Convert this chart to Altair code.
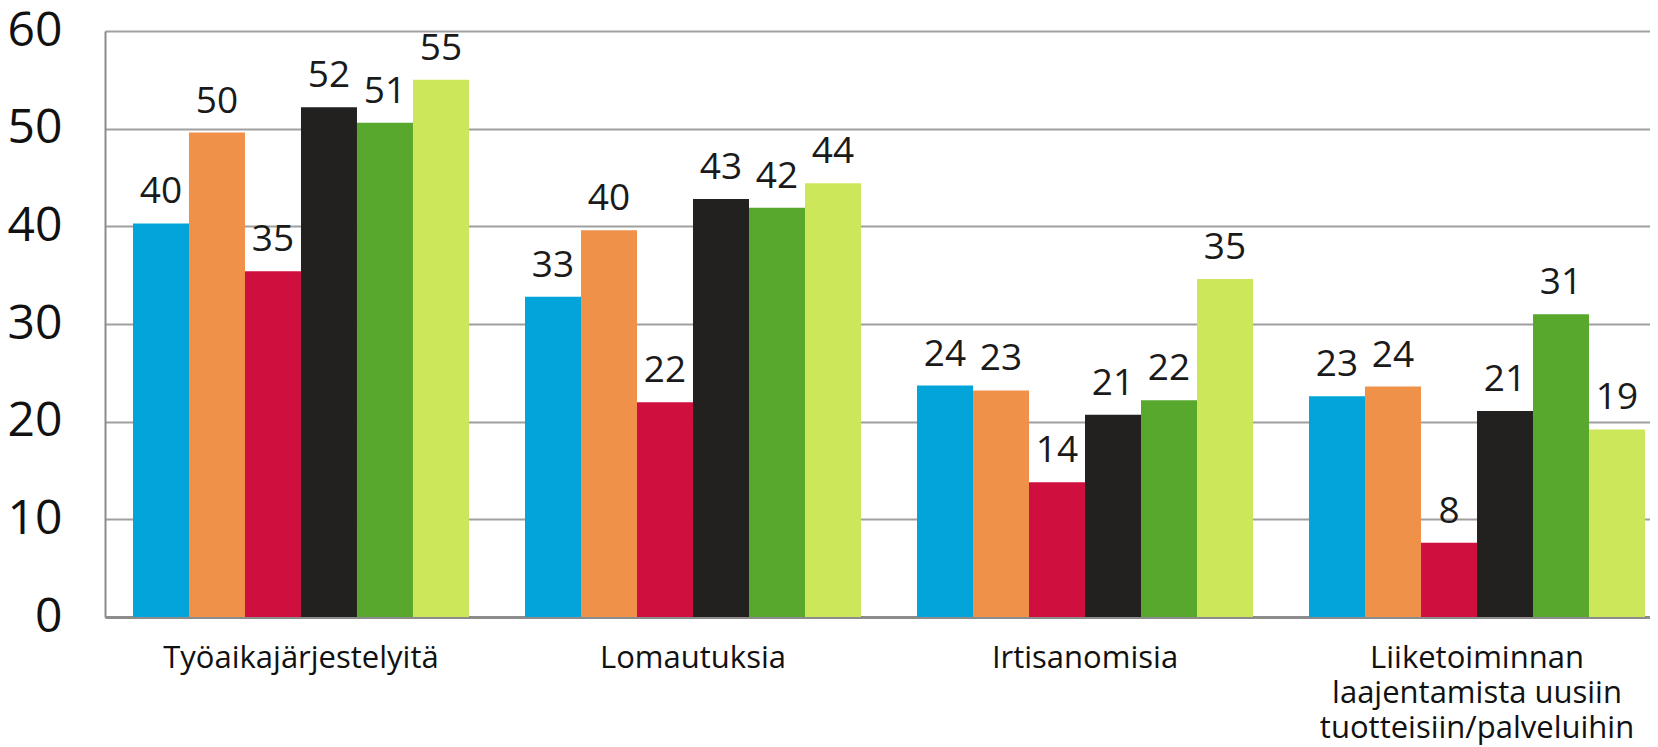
import altair as alt
import pandas as pd

categories = ["Työaikajärjestelyitä", "Lomautuksia", "Irtisanomisia",
              "Liiketoiminnan|laajentamista uusiin|tuotteisiin/palveluihin"]
series = ["Sarja 1", "Sarja 2", "Sarja 3", "Sarja 4", "Sarja 5", "Sarja 6"]
colors = ["#03a4da", "#f0914a", "#cf0f3d", "#222120", "#57a82c", "#cce75a"]

s1 = [40.3, 32.8, 23.7, 22.6]
s2 = [49.6, 39.6, 23.2, 23.6]
s3 = [35.4, 22.0, 13.8, 7.6]
s4 = [52.2, 42.8, 20.7, 21.1]
s5 = [50.6, 41.9, 22.2, 31.0]
s6 = [55.0, 44.4, 34.6, 19.2]

rows = []
for name, vals in zip(series, [s1, s2, s3, s4, s5, s6]):
    for c, v in zip(categories, vals):
        rows.append({"kategoria": c, "sarja": name, "arvo": v})
df = pd.DataFrame(rows)

FONT = "Open Sans"
XRANGE = [0, 1568]

x = alt.X("kategoria:N", sort=categories, title=None,
          scale=alt.Scale(paddingInner=0.1429, paddingOuter=0.0714, range=XRANGE),
          axis=alt.Axis(labelAngle=0, labelFontSize=31, labelFont=FONT, labelColor="#111111",
                        labelPadding=26, ticks=False, domainColor="#8c8c8c", domainWidth=3,
                        labelExpr="split(datum.label, '|')", labelLineHeight=35,
                        labelBaseline="top", labelLimit=0))
xo = alt.XOffset("sarja:N", sort=series, scale=alt.Scale(paddingInner=0, paddingOuter=0))
y = alt.Y("arvo:Q", title=None,
          scale=alt.Scale(domain=[0, 60], nice=False),
          axis=alt.Axis(values=[0, 10, 20, 30, 40, 50, 60], labelFontSize=48, labelFont=FONT,
                        labelColor="#111111", labelPadding=43, ticks=False,
                        grid=True, gridColor="#a0a0a0", gridWidth=2,
                        domainColor="#8c8c8c", domainWidth=2))

bars = alt.Chart(df).mark_bar().encode(
    x=x, xOffset=xo, y=y,
    color=alt.Color("sarja:N", sort=series, scale=alt.Scale(domain=series, range=colors), legend=None),
)

labels = alt.Chart(df).mark_text(fontSize=37, font=FONT, color="#1a1a1a", dy=-20,
                                 baseline="alphabetic", align="center").encode(
    x=alt.X("kategoria:N", sort=categories, scale=alt.Scale(range=XRANGE)),
    xOffset=alt.XOffset("sarja:N", sort=series),
    y=alt.Y("arvo:Q"),
    text=alt.Text("arvo:Q", format=".0f"),
)

chart = alt.layer(bars, labels).properties(
    width=1545, height=586,
    autosize=alt.AutoSizeParams(type="none"),
    padding={"left": 97, "top": 23, "right": 0, "bottom": 130},
).configure_view(stroke=None).configure_axis(labelFont=FONT)

chart.save("out.html", embed_options={"renderer": "svg", "actions": False})
